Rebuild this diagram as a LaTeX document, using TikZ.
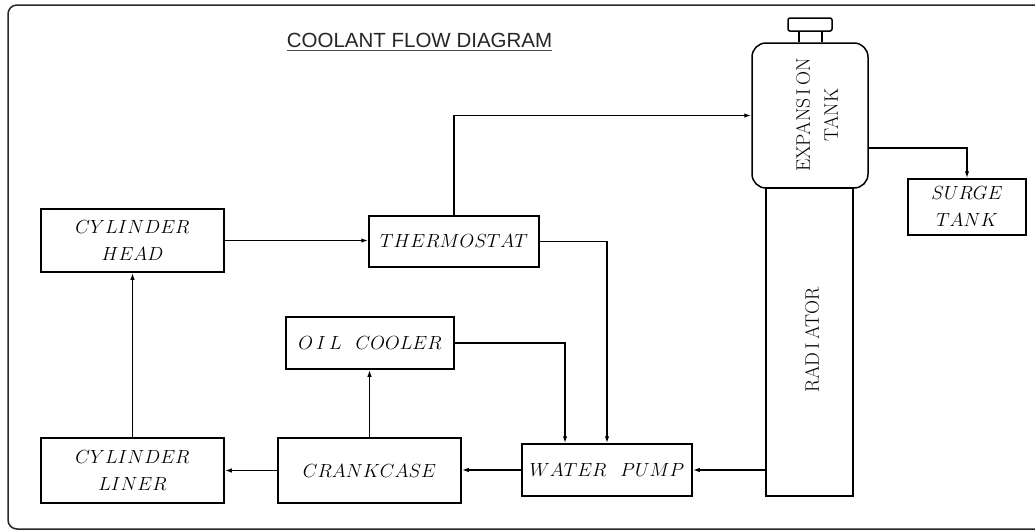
\RequirePackage{fix-cm}
\documentclass[tikz,border=0pt]{standalone}
\usepackage{fontspec}
\newfontfamily\titlefont{Liberation Sans}
\usetikzlibrary{arrows.meta,calc}
\tikzset{
  box/.style={draw, line width=1.5pt, inner sep=0pt, align=center,
    font=\fontsize{19}{27}\selectfont},
  flow/.style={draw, line width=1.5pt, -{Latex[length=7pt,width=4.5pt]}},
}
\begin{document}
\begin{tikzpicture}[x=1pt,y=-1pt]
\useasboundingbox (0,0) rectangle (1035,531);
% frame
\draw[line width=1.5pt, rounded corners=9pt, black!85] (1050,5) -- (8,5) -- (8,529) -- (1050,529);
% title
\node[font=\titlefont\fontsize{20.5}{24}\selectfont, text=black!85, inner sep=0pt] (title) at (419.5,40) {COOLANT FLOW DIAGRAM};
\draw[line width=1.2pt, black!70] (title.south west) ++(0,3) coordinate (u1) -- (u1 -| title.south east);
% boxes
\node[box, minimum width=183pt, minimum height=63pt] (head) at (132.5,240.5) {$CYLINDER$\\$HEAD$};
\node[box, minimum width=170pt, minimum height=51pt] (thermo) at (454,241.5) {$THERMOSTAT$};
\node[box, minimum width=116pt, minimum height=145pt, rounded corners=14pt] (tank) at (810,115.5) {};
\node[font=\fontsize{19.5}{28}\selectfont, rotate=90, align=center, inner sep=0pt] (tanklabel) at (817,115) {EXPANS\,I\,ON\\TANK};
\node[box, minimum width=87pt, minimum height=308pt] (radiator) at (809.5,342) {};
\node[font=\fontsize{19.5}{27}\selectfont, rotate=90, inner sep=0pt] (radlabel) at (812,340) {RAD\,I\,ATOR};
\node[box, minimum width=118pt, minimum height=56pt] (surge) at (967,207) {$SURGE$\\$TANK$};
\node[box, minimum width=168pt, minimum height=52pt] (oil) at (370,343) {$O\,I\,L$\hspace{14pt}$COOLER$};
\node[box, minimum width=183pt, minimum height=65pt] (liner) at (132.5,470.5) {$CYLINDER$\\$LINER$};
\node[box, minimum width=183pt, minimum height=65pt] (crank) at (369.5,470.5) {$CRANKCASE$};
\node[box, minimum width=170pt, minimum height=52pt] (pump) at (607,470) {$WATER$\hspace{14pt}$PUMP$};
% cap of expansion tank
\node[draw, line width=1.5pt, rounded corners=2pt, minimum width=44pt, minimum height=13pt, inner sep=0pt] (cap) at (810,24.5) {};
\draw[line width=1.5pt] ([xshift=-11pt]cap.south) -- ([xshift=-11pt]cap.south |- tank.north);
\draw[line width=1.5pt] ([xshift=12pt]cap.south) -- ([xshift=12pt]cap.south |- tank.north);
% connectors
\draw[flow] (head.east) -- (head.east -| thermo.west);
\draw[flow] (thermo.north) |- (tank.west);
\draw[flow] (thermo.east) -| (pump.north);
\coordinate (tout) at (868,148);
\draw[flow] (tout) -| (surge.north);
\draw[flow] (oil.east) -| ([xshift=-42pt]pump.north);
\draw[flow] (pump.east -| radiator.west) -- (pump.east);
\draw[flow] (pump.west) -- (pump.west -| crank.east);
\draw[flow] (crank.west) -- (liner.east);
\draw[flow] (crank.north) -- (crank.north |- oil.south);
\draw[flow] (liner.north) -- (liner.north |- head.south);
\end{tikzpicture}
\end{document}
